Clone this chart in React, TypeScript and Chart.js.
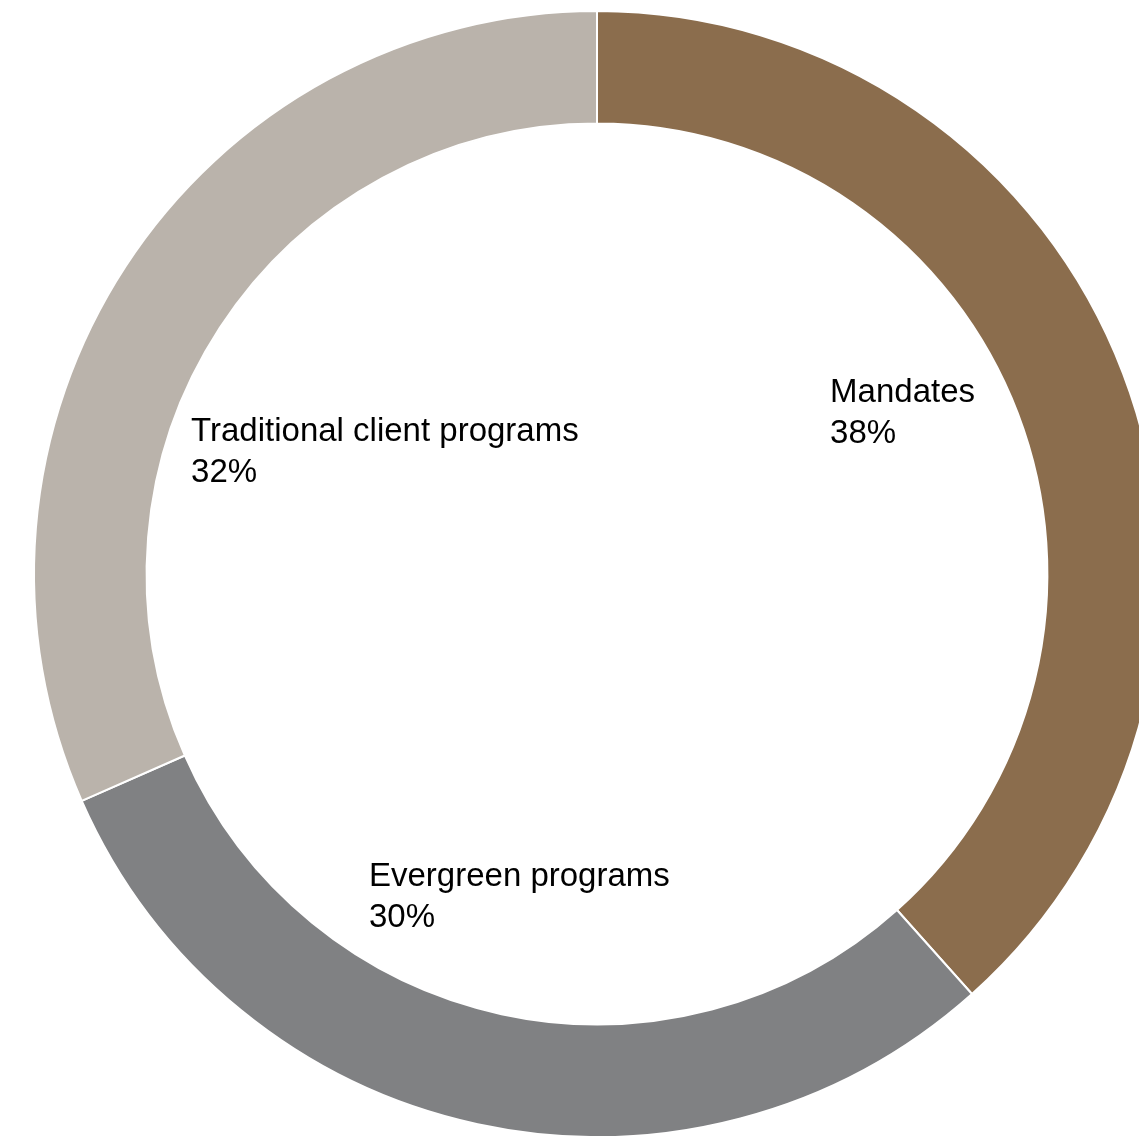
import React, { useEffect, useRef } from "react";
import { Chart, registerables } from "chart.js";

Chart.register(...registerables);

const categories = ["Mandates", "Evergreen programs", "Traditional client programs"];
const shares = [38.4, 30.0, 31.6];
const colors = ["#8B6D4D", "#808183", "#BAB3AB"];
// label anchor (left edge, first baseline) relative to centre, in units of outer radius
const labelAnchors: [number, number][] = [
  [0.414, -0.306],
  [-0.405, 0.555],
  [-0.721, -0.237],
];

const labelPlugin = {
  id: "ringLabels",
  afterDatasetsDraw(chart: any) {
    const meta = chart.getDatasetMeta(0);
    if (!meta || !meta.data.length) return;
    const arc = meta.data[0];
    const cx = arc.x;
    const cy = arc.y;
    const R = arc.outerRadius;
    const ctx = chart.ctx;
    ctx.save();
    ctx.fillStyle = "#000000";
    ctx.font = '33px "Liberation Sans", Arial, sans-serif';
    ctx.textAlign = "left";
    ctx.textBaseline = "alphabetic";
    categories.forEach((name, i) => {
      const [ax, ay] = labelAnchors[i];
      const x = cx + ax * R;
      const y = cy + ay * R;
      ctx.fillText(name, x, y);
      ctx.fillText(Math.round(shares[i]) + "%", x, y + 41);
    });
    ctx.restore();
  },
};

export default function App() {
  const ref = useRef<HTMLCanvasElement | null>(null);
  useEffect(() => {
    document.documentElement.style.overflow = "hidden";
    document.body.style.margin = "0";
    if (!ref.current) return;
    const chart = new Chart(ref.current, {
      type: "doughnut",
      data: {
        labels: categories,
        datasets: [
          {
            data: shares,
            backgroundColor: colors,
            borderColor: "#ffffff",
            borderWidth: 2,
          },
        ],
      },
      options: {
        animation: false,
        responsive: true,
        maintainAspectRatio: false,
        cutout: "80%",
        layout: { padding: { top: 2 } },
        plugins: {
          legend: { display: false },
          tooltip: { enabled: false },
        },
      },
      plugins: [labelPlugin],
    });
    return () => chart.destroy();
  }, []);
  return (
    <div style={{ width: 1139, height: 1136, overflow: "hidden" }}>
      <div style={{ paddingLeft: 8, paddingTop: 8 }}>
        <div style={{ width: 1178, height: 1130, position: "relative" }}>
          <canvas ref={ref} />
        </div>
      </div>
    </div>
  );
}
